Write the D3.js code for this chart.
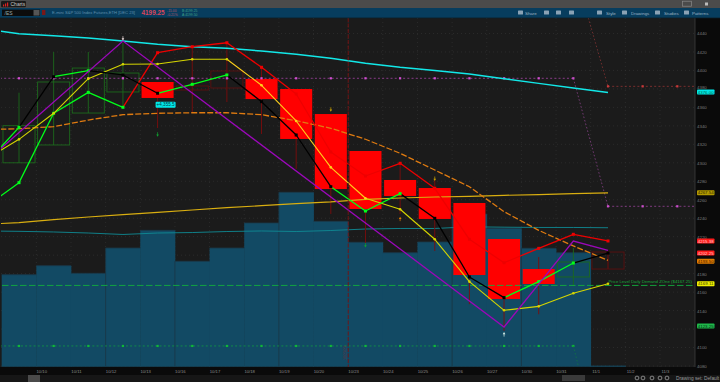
<!DOCTYPE html>
<html><head><meta charset="utf-8">
<script src="https://cdn.jsdelivr.net/npm/d3@7"></script>
<style>html,body{margin:0;padding:0;background:#1b1b1b;overflow:hidden}svg{display:block;font-family:"Liberation Sans",Arial,sans-serif}</style>
</head><body><svg id="c" width="720" height="382"></svg>
<script>
// ---------- data (index 0 = first full bar, -1 = the bar scrolled off the left edge) ----------
const dateLabels = ["10/10","10/11","10/12","10/13","10/16","10/17","10/18","10/19","10/20","10/23","10/24","10/25","10/26","10/27","10/30","10/31","11/1","11/2","11/3"];
const priceTicks = [4440,4420,4400,4380,4360,4340,4320,4300,4280,4260,4240,4220,4200,4180,4160,4140,4120,4100,4080];
const ticksUnderTags = [4200,4120];
const opens  = [4300,4319.3,4353.9,4376.7,4387.5,4383.2,4399.4,4390.7,4379.9,4352.8,4312.8,4281.4,4272.7,4256.5,4217.5,4185,4176.4,4203.4];
const closes = [4340.2,4387.5,4402.6,4397.2,4370.2,4378.8,4381,4369,4325.8,4271.6,4250,4264,4239.2,4178.5,4152.5,4168.8,4192.6,4185];
const highs  = [4375.9,4420,4420,4429.7,4387.5,4426.5,4430.8,4403.7,4379.9,4352.8,4312.8,4299.8,4281.4,4256.5,4217.5,4198,4207.8,4203.4];
const lows   = [4299.8,4319.3,4353.9,4360.4,4337.7,4355,4365.8,4331.2,4293.3,4244.6,4213,4244.6,4204.5,4147,4118,4136,4166.6,4185];
const hollow = [1,1,1,1,0,1,1,0,0,0,0,0,0,0,0,0,1,1];
const volumes = [1055,1158,1071,1361,1564,1209,1361,1648,2000,1667,1427,1307,1430,1751,1587,1358,1307,12];
const volSeparators = [3,5,8,13,15];
const smaCyan = [4445.1,4439.8,4437.6,4435.1,4431.9,4428.3,4425.7,4424,4421,4417.5,4413.1,4407.7,4403.4,4400,4396.2,4391,4386,4381,4376];
const smaGold = [4233.4,4235.2,4238.4,4241.3,4243.8,4246.4,4248.9,4251.4,4253.6,4255.7,4257.6,4260.5,4261.9,4263,4263.7,4264.8,4265.5,4266.6,4267.54];
const smaTeal = [4226.2,4225.8,4225.1,4224,4222.4,4224,4224.5,4225.6,4226.2,4225.6,4226.7,4228.3,4228.9,4228.9,4230.7,4230.3,4230,4230,4229.7];
const emaOrange = [4336,4336.9,4339.1,4346.3,4352.1,4353.6,4354.2,4354.2,4352.1,4345.6,4337.4,4325.5,4310.3,4292.2,4274.1,4247.1,4226.9,4210,4194.4];
const closeLine = [4297.6,4338.4,4393.2,4399.7,4395.1,4375.3,4385,4395.1,4366.2,4330.1,4274.1,4247.8,4266.6,4239.9,4176.4,4154,4171.3,4191.5,4202.25];
const closeUp   = [1,0,1,0,0,1,1,0,0,0,1,1,0,0,0,1,1,0];
const trendLine = [4251.1,4278.5,4353.6,4376.3,4360.1,4419.2,4425.7,4430,4403.4,4374.5,4311.7,4285.7,4299.5,4272.4,4217.2,4191.8,4207.4,4222.6,4215.38];
const trendUp   = [1,1,1,1,0,0,0,0,0,0,0,0,0,0,0,0,0,0];
const yellowLine = [4303,4325.4,4353.6,4391.1,4406.7,4407,4412.1,4412.1,4383.9,4345.3,4295.1,4261.6,4249.7,4217.2,4171.3,4140.3,4144.6,4158.7,4169.11];
const yellowBright = [0,0,0,0,0,0,0,1,1,1,1,0,0,0,0,0,0,0];
const zigIdx = [-1,3,14,16,17];
const zigVal = [4299.8,4431.9,4122.2,4215.3,4205.3];
const pivotMagenta = 4391.5, pivotMagentaNext = 4252.9;
const pivotRed = 4382.8, pivotRedPrev = 4513;
const pivotGreen = 4101.7, pivotGreenNext = 3950;
const demandLevel = 4167.25;
const bubblePrice = 4366, bubbleText = "+4,355.5";
const sigIdx = [3,4,9,10,11,12,14];
const sigVal = [4435,4331,4358,4211,4239,4283,4114];
const sigDown = [1,1,1,1,0,1,0];
const sigColor = ["#e8d8d8","#10a030","#c8a000","#10a030","#e07b00","#c8a000","#d8f0e8"];
const tagLabels = ["4376.00","4267.54","4215.38","4202.25","4193.50","4169.11","4123.25"];
const tagPrices = [4376.6,4267.54,4215.38,4202.25,4193.5,4169.11,4123.25];
const tagFill = ["#00e8e8","#b39a00","#ff1a1a","#ff1a1a","#e07b00","#eeee00","#1fb84a"];
const tagText = ["#064","#2a2400","#ffd0d0","#ffd0d0","#402000","#333300","#053015"];
const toolNames = ["Share","Style","Drawings","Studies","Patterns"];
const toolX = [525,606,631,664,692];

// ---------- layout ----------
const W=720,H=382, plotL=1, plotR=695, plotT=18, plotB=367;
const svg=d3.select("#c");
const x=d3.scaleLinear().domain([0,17]).range([19,608]);
const y=d3.scaleLinear().domain([4440,4080]).range([33.5,366]);
const vol=d3.scaleLinear().domain([0,2000]).range([366.7,192.3]);
const step=x(1)-x(0), bodyW=step-2.6;
const GREEN="#00ff1a", BLACK="#000", RED="#ee0000";

svg.append("rect").attr("width",W).attr("height",H).attr("fill","#1b1b1b");
const defs=svg.append("defs");
defs.append("clipPath").attr("id","plot").append("rect").attr("x",plotL).attr("y",plotT).attr("width",plotR-plotL).attr("height",plotB-plotT);

// grid
const grid=svg.append("g").attr("stroke","#363636").attr("stroke-width",.6).attr("stroke-dasharray","1 3");
grid.selectAll("line.h").data(priceTicks).join("line").attr("x1",plotL).attr("x2",plotR).attr("y1",d=>y(d)).attr("y2",d=>y(d));
grid.selectAll("line.v").data(dateLabels).join("line").attr("x1",(d,i)=>x(i+1)-17.3).attr("x2",(d,i)=>x(i+1)-17.3).attr("y1",plotT).attr("y2",plotB);

const plot=svg.append("g").attr("clip-path","url(#plot)");
// volume
plot.append("g").selectAll("rect").data(volumes).join("rect")
 .attr("x",(d,i)=>x(i)-step/2).attr("width",step+.4)
 .attr("y",d=>vol(d)).attr("height",d=>vol(0)-vol(d)).attr("fill","#124a64");
plot.append("g").selectAll("line").data(volumes.slice(0,17)).join("line")
 .attr("x1",(d,i)=>x(i)-step/2).attr("x2",(d,i)=>x(i)+step/2)
 .attr("y1",d=>vol(d)).attr("y2",d=>vol(d)).attr("stroke","#1a3a4a").attr("stroke-width",.8);
plot.append("g").selectAll("line").data(volSeparators).join("line")
 .attr("x1",d=>x(d)-step/2).attr("x2",d=>x(d)-step/2)
 .attr("y1",d=>vol(volumes[d])).attr("y2",vol(0)).attr("stroke","#1a3644").attr("stroke-width",.8);

const line=d3.line().x((d,i)=>x(i-1)).y(d=>y(d));
plot.append("path").attr("d",line(smaTeal)).attr("fill","none").attr("stroke","#0f8a94").attr("stroke-width",.9);

// candles
const cc=(i)=>closes[i]>=opens[i]?"#1c6a1c":"#7d0c0c";
plot.append("g").selectAll("line").data(opens).join("line")
 .attr("x1",(d,i)=>x(i)).attr("x2",(d,i)=>x(i)).attr("y1",(d,i)=>y(highs[i])).attr("y2",(d,i)=>y(lows[i]))
 .attr("stroke",(d,i)=>cc(i)).attr("stroke-width",.9);
plot.append("g").selectAll("rect").data(opens).join("rect")
 .attr("x",(d,i)=>x(i)-bodyW/2).attr("width",bodyW)
 .attr("y",(d,i)=>y(Math.max(opens[i],closes[i]))).attr("height",(d,i)=>Math.abs(y(opens[i])-y(closes[i])))
 .attr("fill",(d,i)=>hollow[i]?"none":"#ff0000")
 .attr("stroke",(d,i)=>hollow[i]?(closes[i]>=opens[i]?"#1c6a1c":"#5c1010"):"none").attr("stroke-width",.9);

// red vertical marker
svg.append("line").attr("x1",x(9)+17.4).attr("x2",x(9)+17.4).attr("y1",plotT).attr("y2",plotB)
 .attr("stroke","#7a1212").attr("stroke-width",.9).attr("stroke-dasharray","4 1.5");
svg.append("text").attr("transform",`translate(${x(9)+15},360) rotate(-90)`).attr("font-size",3.6).attr("fill","#70303a").text("10/23/23");

// horizontal pivots
function pivot(val,i0,i1,color,r){
 const xs=d3.range(i0,i1+1);
 plot.append("line").attr("x1",x(i0-0.55)).attr("x2",x(i1)).attr("y1",y(val)).attr("y2",y(val)).attr("stroke",color).attr("stroke-width",.8).attr("stroke-dasharray","2 2.2").attr("opacity",.75);
 plot.append("g").selectAll("rect").data(xs).join("rect").attr("x",d=>x(d)-r/2).attr("y",y(val)-r/2).attr("width",r).attr("height",r).attr("fill",color);
}
pivot(pivotMagenta,0,16,"#d24fd2",2.2);
pivot(pivotGreen,0,16,"#10b838",2.2);
function connector(i0,v0,i1,v1,color){
 plot.append("line").attr("x1",x(i0)).attr("x2",x(i1)).attr("y1",y(v0)).attr("y2",y(v1)).attr("stroke",color).attr("stroke-width",.8).attr("stroke-dasharray","1.6 2").attr("opacity",.75);
}
connector(16,pivotMagenta,17,pivotMagentaNext,"#a84ca8");
connector(16,pivotRedPrev,17,pivotRed,"#a33a3a");
connector(16,pivotGreen,17,pivotGreenNext,"#10803a");
plot.append("g").selectAll("rect").data([17,18,19]).join("rect").attr("x",d=>x(d)-1.1).attr("y",y(pivotMagentaNext)-1.1).attr("width",2.2).attr("height",2.2).attr("fill","#d24fd2");
plot.append("g").selectAll("rect").data([17,18,19]).join("rect").attr("x",d=>x(d)-1.1).attr("y",y(pivotRed)-1.1).attr("width",2.2).attr("height",2.2).attr("fill","#d23a3a");
[[pivotMagentaNext,"#c050c0"],[pivotRed,"#b83a3a"]].forEach(([v,c])=>
 plot.append("line").attr("x1",x(17)).attr("x2",plotR).attr("y1",y(v)).attr("y2",y(v)).attr("stroke",c).attr("stroke-width",.8).attr("stroke-dasharray","2 2.2").attr("opacity",.75));

// demand level
plot.append("line").attr("x1",2).attr("x2",plotR).attr("y1",y(demandLevel)).attr("y2",y(demandLevel)).attr("stroke","#12b03c").attr("stroke-width",.9).attr("stroke-dasharray","6.5 2.5");
svg.append("text").attr("x",x(17)+.5).attr("y",y(demandLevel)-2.4).attr("font-size",4.3).attr("fill","#17a83a").text("Price Level Daily Demand ZOne ($4167.25)");

// SMAs
plot.append("path").attr("d",line(smaGold)).attr("fill","none").attr("stroke","#d9ae10").attr("stroke-width",1.2);
plot.append("path").attr("d",line(smaCyan)).attr("fill","none").attr("stroke","#12e8e8").attr("stroke-width",1.5);
plot.append("path").attr("d",line(emaOrange)).attr("fill","none").attr("stroke","#e07b10").attr("stroke-width",1.3).attr("stroke-dasharray","6 2");

// coloured step segments
function segments(vals,flags,cOn,cOff,w,r,round){
 const g=plot.append("g");
 g.selectAll("line").data(flags).join("line")
  .attr("x1",(d,i)=>x(i-1)).attr("x2",(d,i)=>x(i)).attr("y1",(d,i)=>y(vals[i])).attr("y2",(d,i)=>y(vals[i+1]))
  .attr("stroke",d=>d?cOn:cOff).attr("stroke-width",w);
 g.selectAll(round?"circle":"rect").data(flags).join(round?"circle":"rect").each(function(d,i){
  const s=d3.select(this), X=x(i), Y=y(vals[i+1]);
  if(round) s.attr("cx",X).attr("cy",Y).attr("r",r/2).attr("fill",d?cOn:cOff);
  else s.attr("x",X-r/2).attr("y",Y-r/2).attr("width",r).attr("height",r).attr("fill",d?cOn:cOff);
 });
}
segments(trendLine,trendUp,GREEN,RED,1.3,3,false);
segments(yellowLine,yellowBright,"#ffd21a","#d6d600",1.1,2.6,true);
segments(closeLine,closeUp,GREEN,BLACK,1.3,3,false);

// zigzag
plot.append("path").attr("d",d3.line().x((d,i)=>x(zigIdx[i])).y(d=>y(d))(zigVal)).attr("fill","none").attr("stroke","#9a08b8").attr("stroke-width",1.3);

// signals
const sig=plot.append("g").selectAll("g").data(sigIdx).join("g")
 .attr("transform",(d,i)=>`translate(${x(d)},${y(sigVal[i])}) rotate(${sigDown[i]?180:0})`)
 .attr("fill",(d,i)=>sigColor[i]).attr("stroke",(d,i)=>sigColor[i]);
sig.append("path").attr("d",d3.symbol(d3.symbolTriangle,3)).attr("stroke","none").attr("transform","translate(0,-1)");
sig.append("line").attr("y1",-1).attr("y2",2).attr("stroke-width",.7);

// bubble
svg.append("rect").attr("x",x(4)-2).attr("y",y(bubblePrice)).attr("width",20).attr("height",6).attr("rx",1).attr("fill","#00e8e8");
svg.append("text").attr("x",x(4)+8).attr("y",y(bubblePrice)+4.6).attr("text-anchor","middle").attr("font-size",4.6).attr("fill","#063a44").text(bubbleText);

// right axis + bottom band
svg.append("rect").attr("x",plotR).attr("y",plotT).attr("width",W-plotR).attr("height",H-plotT).attr("fill","#0a0a0a");
svg.append("rect").attr("x",0).attr("y",plotB).attr("width",W).attr("height",H-plotB).attr("fill","#0a0a0a");
svg.append("rect").attr("x",0).attr("y",375).attr("width",W).attr("height",7).attr("fill","#161616");
svg.append("line").attr("x1",plotR).attr("x2",plotR).attr("y1",plotT).attr("y2",plotB).attr("stroke","#3c3c3c").attr("stroke-width",.8);
const yAxis=d3.axisRight(y).tickValues(priceTicks.filter(t=>!ticksUnderTags.includes(t))).tickSize(0).tickPadding(2).tickFormat(d3.format("d"));
const ya=svg.append("g").attr("transform",`translate(${plotR},0)`).call(yAxis);
ya.select(".domain").remove();
ya.selectAll("text").attr("fill","#7b7b7b").attr("font-size",4.4).attr("font-family","Liberation Sans")
 .attr("dy",d=>d===4380?"-0.15em":"0.32em");
const xAxis=d3.axisBottom(d3.scaleLinear().domain([0,17]).range([x(0)-12.4,x(17)-12.4]))
 .tickValues(d3.range(1,20)).tickSize(0).tickPadding(0).tickFormat(d=>dateLabels[d-1]);
const xa=svg.append("g").attr("transform",`translate(0,${plotB+3})`).call(xAxis);
xa.select(".domain").remove();
xa.selectAll("text").attr("fill","#8c8c8c").attr("font-size",4.2).attr("font-family","Liberation Sans");

// price tags
const tag=svg.append("g").selectAll("g").data(tagLabels).join("g").attr("transform",(d,i)=>`translate(697,${y(tagPrices[i])})`);
tag.append("rect").attr("x",0).attr("y",-2.5).attr("width",17.5).attr("height",5).attr("rx",.8).attr("fill",(d,i)=>tagFill[i]);
tag.append("text").attr("x",8.7).attr("y",1.6).attr("text-anchor","middle").attr("font-size",4.4).attr("fill",(d,i)=>tagText[i]).text(d=>d);

// header
svg.append("rect").attr("width",W).attr("height",8).attr("fill","#4b4b4b");
svg.append("rect").attr("y",8).attr("width",W).attr("height",10).attr("fill","#073d5e");
svg.append("rect").attr("y",17.5).attr("width",W).attr("height",.8).attr("fill","#0c2430");
svg.append("rect").attr("x",1).attr("y",1).attr("width",25).attr("height",6.2).attr("rx",1.2).attr("fill","#1a1a1a");
svg.append("path").attr("d","M3 6.5v-2h1.2v2zM5 6.5v-3h1.2v3zM7 6.5v-4h1.2v4z").attr("fill","#d22");
svg.append("text").attr("x",10.5).attr("y",6).attr("font-size",5).attr("fill","#c8c8c8").text("Charts");
svg.append("rect").attr("x",2).attr("y",9.6).attr("width",38).attr("height",6.4).attr("fill","#0c0c0c");
svg.append("rect").attr("x",33.5).attr("y",10).attr("width",6).attr("height",5.6).attr("fill","#555");
svg.append("text").attr("x",4.5).attr("y",14.8).attr("font-size",5).attr("fill","#9aa").text("/ES");
svg.append("rect").attr("x",42).attr("y",10).attr("width",3.4).attr("height",5).attr("fill","#7a1818");
svg.append("text").attr("x",52).attr("y",14.2).attr("font-size",4).attr("textLength",83).attr("lengthAdjust","spacingAndGlyphs").attr("fill","#5f90ad").text("E-mini S&P 500 Index Futures,ETH [DEC 23]");
svg.append("text").attr("x",141.5).attr("y",15.2).attr("font-size",6.4).attr("font-weight","bold").attr("fill","#d8465c").text("4199.25");
svg.append("text").attr("x",167).attr("y",11.8).attr("font-size",3.4).attr("fill","#b0566a").text("-15.00");
svg.append("text").attr("x",167).attr("y",16).attr("font-size",3.4).attr("fill","#b0566a").text("-0.21%");
svg.append("text").attr("x",182).attr("y",11.8).attr("font-size",3.4).attr("fill","#3fa08a").text("B:4199.25");
svg.append("text").attr("x",182).attr("y",16).attr("font-size",3.4).attr("fill","#3fa08a").text("A:4199.50");
svg.append("g").selectAll("text").data(toolNames).join("text").attr("x",(d,i)=>toolX[i]).attr("y",14.6).attr("font-size",4.4).attr("fill","#9fb4c4").text(d=>d);
svg.append("g").selectAll("rect").data([518,544,556,569,597,622,655,684]).join("rect").attr("x",d=>d).attr("y",10.4).attr("width",5).attr("height",4.2).attr("rx",.6).attr("fill","#8aa2b4");
svg.append("rect").attr("x",682.5).attr("y",1.2).attr("width",9).attr("height",5).attr("fill","none").attr("stroke","#8a8a8a").attr("stroke-width",.7);
svg.append("rect").attr("x",705).attr("y",2.5).attr("width",3).attr("height",3).attr("fill","#bbb");

// footer
svg.append("rect").attr("x",28).attr("y",375).attr("width",12).attr("height",7).attr("fill","#4a4a4a");
svg.append("rect").attr("x",562).attr("y",375).attr("width",23).attr("height",6).attr("fill","#3a3a3a");
svg.append("text").attr("x",676).attr("y",380).attr("font-size",4.8).attr("fill","#9a9a9a").text("Drawing set: Default");
svg.append("g").selectAll("circle").data([637,643,652,660,667]).join("circle").attr("cx",d=>d).attr("cy",378).attr("r",1.9).attr("fill","none").attr("stroke","#b0b0b0").attr("stroke-width",.7);
</script></body></html>
